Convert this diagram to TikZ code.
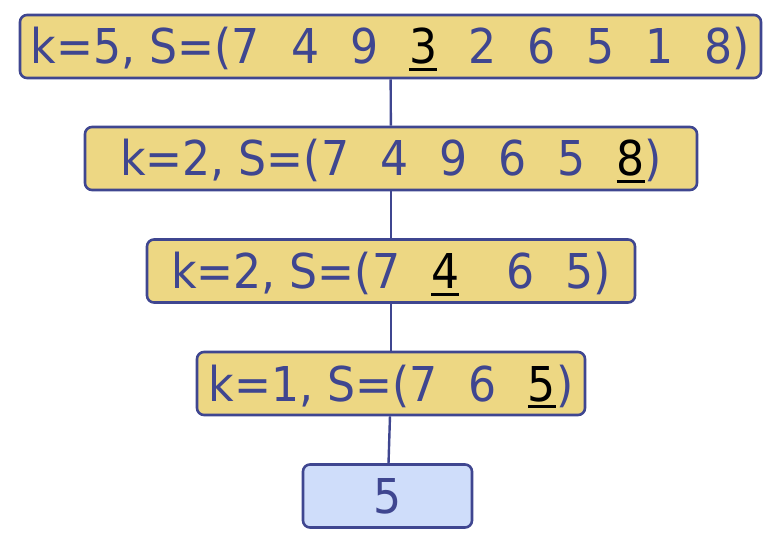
\documentclass[tikz,border=0pt]{standalone}
\usepackage{fontspec}
\setmainfont{DejaVu Sans}[FakeStretch=0.92]
\definecolor{txtblue}{HTML}{3F4690}
\definecolor{boxgold}{HTML}{EDD783}
\definecolor{boxblue}{HTML}{CFDDFA}
\newcommand*\gap{\hspace{31pt}}
\newcommand*\pick[1]{{\color{black}\setbox0\hbox{#1}\rlap{\rule[-7pt]{\wd0}{3pt}}\box0}}
\tikzset{
  callbox/.style={draw=txtblue, line width=2.6pt, fill=boxgold, rounded corners=7pt,
    text=txtblue, font=\fontsize{48}{52}\selectfont, inner sep=0pt,
    minimum height=63pt, text height=38pt, text depth=3pt},
  resbox/.style={callbox, fill=boxblue},
  link/.style={draw=txtblue, line width=2.4pt}
}

\begin{document}
\begin{tikzpicture}[x=1pt,y=-1pt]
\useasboundingbox (0,0) rectangle (779,556);
\node[callbox, minimum width=741pt] (c1) at (390.5,46.5)
  {k=5, S=(7\gap4\gap9\gap\pick{3}\gap2\gap6\gap5\gap1\gap8)};
\node[callbox, minimum width=612pt] (c2) at (391,158.5)
  {k=2, S=(7\gap4\gap9\gap6\gap5\gap\pick{8})};
\node[callbox, minimum width=488pt] (c3) at (391,271)
  {k=2, S=(7\gap\pick{4}\gap\hspace{16pt}6\gap5)};
\node[callbox, minimum width=388pt] (c4) at (391,383.5)
  {k=1, S=(7\gap6\gap\pick{5})};
\node[resbox, minimum width=169pt] (res) at (387.5,496) {5};

\draw[link] (c1) -- (c2);
\draw[link] (c2) -- (c3);
\draw[link] (c3) -- (c4);
\draw[link] (c4) -- (res);
\end{tikzpicture}
\end{document}
